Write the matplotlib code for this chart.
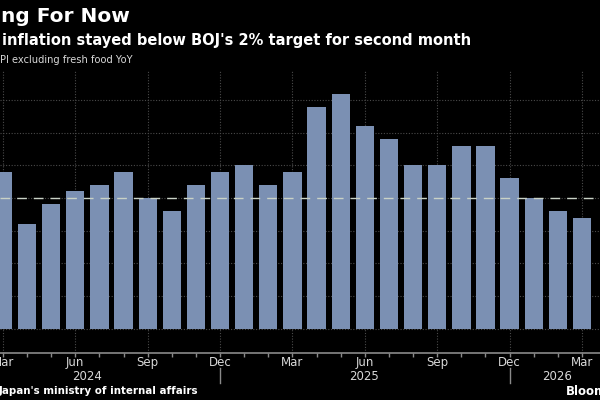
import numpy as np
import matplotlib.pyplot as plt

# Tokyo core CPI (ex fresh food) YoY, Mar 2024 .. Mar 2026
months = ["Mar", "Apr", "May", "Jun", "Jul", "Aug", "Sep", "Oct", "Nov", "Dec",
          "Jan", "Feb", "Mar", "Apr", "May", "Jun", "Jul", "Aug", "Sep", "Oct",
          "Nov", "Dec", "Jan", "Feb", "Mar"]
values = [2.4, 1.6, 1.9, 2.1, 2.2, 2.4, 2.0, 1.8, 2.2, 2.4,
          2.5, 2.2, 2.4, 3.4, 3.6, 3.1, 2.9, 2.5, 2.5, 2.8,
          2.8, 2.3, 2.0, 1.8, 1.7]
years = ["2024", "2025", "2026"]
year_pos = [3.47, 14.96, 22.95]
year_breaks = [9, 21]
target = 2.0

BG = "black"
BAR_COLOR = "#7b90b3"
GRID_COLOR = "#4a4a4a"
TEXT_COLOR = "#d8d8d8"

W, H = 600, 400
fig = plt.figure(figsize=(6, 4), dpi=100, facecolor=BG)
# axes spans the full width; bottom spine at y=352.7px, top at 70px
ax = fig.add_axes([0, (H - 352.7) / H, 1, (352.7 - 70) / H])
ax.set_facecolor(BG)

x = np.arange(len(values))
ax.bar(x, values, width=0.76, color=BAR_COLOR, zorder=3)
ax.axhline(target, color="#c9d2c6", linewidth=1, dashes=(7, 5), zorder=4)

ax.set_xlim((0 - 2.9) / 24.13, (600 - 2.9) / 24.13)
ax.set_ylim(-0.37, 3.96)

ax.set_yticks(np.arange(0, 4.0, 0.5))
ax.tick_params(axis="y", left=False, labelleft=False)
ax.grid(axis="y", color=GRID_COLOR, linestyle=(0, (1, 1.5)), linewidth=0.8, zorder=0)

major = x[::3]
ax.set_xticks(major)
ax.set_xticklabels([months[i] for i in major])
ax.set_xticks(x, minor=True)
ax.tick_params(axis="x", which="both", direction="out", length=3, width=1,
               color="#8a8a8a", labelcolor=TEXT_COLOR, labelsize=8.5, pad=-0.8)
ax.grid(axis="x", which="major", color=GRID_COLOR, linestyle=(0, (1, 1.5)),
        linewidth=0.8, zorder=0)

for side in ["top", "left", "right"]:
    ax.spines[side].set_visible(False)
ax.spines["bottom"].set_color("#8a8a8a")
ax.spines["bottom"].set_linewidth(1.2)

trans = ax.get_xaxis_transform()
for yr, xp in zip(years, year_pos):
    ax.text(xp, -0.0842, yr, transform=trans, ha="center", va="center",
            color=TEXT_COLOR, fontsize=8.5, clip_on=False)
for xb in year_breaks:
    ax.plot([xb, xb], [-0.054, -0.107], transform=trans, color="#8a8a8a",
            linewidth=1, clip_on=False)

# header and footer (left side of the original is cropped)
fig.text(1 / W, 1 - 17 / H, "ng For Now", color="white", fontsize=14.5,
         fontweight="bold", va="center", ha="left")
fig.text(2 / W, 1 - 40 / H, "inflation stayed below BOJ's 2% target for second month",
         color="white", fontsize=10.5, fontweight="bold", va="center", ha="left")
fig.text(0, 1 - 60 / H, "PI excluding fresh food YoY", color=TEXT_COLOR,
         fontsize=7.1, va="center", ha="left")
fig.text(-1 / W, 1 - 391.5 / H, "Japan's ministry of internal affairs", color="white",
         fontsize=7.4, fontweight="bold", va="center", ha="left")
fig.text(566 / W, 1 - 391.5 / H, "Bloomberg", color="white", fontsize=8.5,
         fontweight="bold", va="center", ha="left")

fig.savefig("out.png", dpi=100, facecolor=BG)
